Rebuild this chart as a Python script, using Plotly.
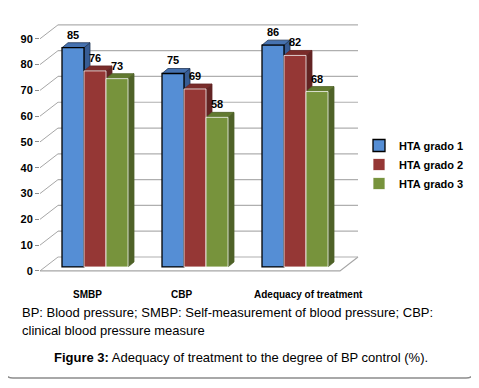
import plotly.graph_objects as go

# ---------------- data ----------------
categories = ["SMBP", "CBP", "Adequacy of treatment"]
series_names = ["HTA grado 1", "HTA grado 2", "HTA grado 3"]
grado1 = [85, 75, 86]
grado2 = [76, 69, 82]
grado3 = [73, 58, 68]
y_ticks = [0, 10, 20, 30, 40, 50, 60, 70, 80, 90]
caption_note_1 = "BP: Blood pressure; SMBP: Self-measurement of blood pressure; CBP:"
caption_note_2 = "clinical blood pressure measure"
figure_caption = "<b>Figure 3:</b> Adequacy of treatment to the degree of BP control (%)."

# ---------------- style ----------------
PAGE_W, PAGE_H = 479, 388
OX, OY = 8, 8                    # default body margin of the html page
W, H = PAGE_W - OX, PAGE_H - OY  # figure size
FONT = "Liberation Sans, Arial, sans-serif"
front_cols = ["#558ED5", "#953735", "#77933C"]
side_cols = ["#375C94", "#632423", "#4F6228"]
top_cols = ["#4672B0", "#7A2C2A", "#627A30"]
edge_cols = ["#000000", "rgba(255,255,255,0.75)", "rgba(255,255,255,0.75)"]

KY = 234 / 90.0      # px per y unit
KX = 100.0           # px per category unit
Y0 = 273             # page px of value 0 on front plane
X0 = 40              # page px of x=-0.5 on front plane
BAR_SHIFT = (5, -4)  # bar plane offset from front plane (px)
BACK_SHIFT = (18, -14)
DEPTH = (6, -5)      # depth of each bar (px)
BAR_W = 0.22


def dom_x(a, b):
    return [(a - OX) / W, (b - OX) / W]


def dom_y(top, bottom):
    return [(H - (bottom - OY)) / H, (H - (top - OY)) / H]


def px(p):
    return (p - OX) / W


def py(p):
    return (H - (p - OY)) / H


fig = go.Figure()
n = len(categories)

# ---------- front plane: side diagonals, floor edges ----------
fx_right = 370
fy_top = 20
front_xrange = [-0.5, -0.5 + (fx_right - X0) / KX]
front_yrange = [-1.0, (Y0 - fy_top) / KY]
dxb = BACK_SHIFT[0] / KX
dyb = -BACK_SHIFT[1] / KY

diag_x, diag_y = [], []
for v in y_ticks:
    diag_x += [-0.5, -0.5 + dxb, None]
    diag_y += [v, v + dyb, None]
fig.add_trace(go.Scatter(x=diag_x, y=diag_y, mode="lines",
                         line=dict(color="#A6A6A6", width=1),
                         hoverinfo="skip", showlegend=False, xaxis="x", yaxis="y"))
fig.add_trace(go.Scatter(x=[-0.5, n - 0.5, n - 0.5 + dxb], y=[0, 0, dyb], mode="lines",
                         line=dict(color="#A6A6A6", width=1.2),
                         hoverinfo="skip", showlegend=False, xaxis="x", yaxis="y"))

# ---------- bar plane (faces + back-wall grid) ----------
bxpx0 = X0 + BAR_SHIFT[0]
bypx0 = Y0 + BAR_SHIFT[1]
bar_xrange = [-0.5, 2.65]
bar_yrange = [-1.0, 95.0]
bar_dom_x = dom_x(bxpx0, bxpx0 + (bar_xrange[1] - bar_xrange[0]) * KX)
bar_dom_y = dom_y(bypx0 - bar_yrange[1] * KY, bypx0 - bar_yrange[0] * KY)

gdx = (BACK_SHIFT[0] - BAR_SHIFT[0]) / KX
gdy = -(BACK_SHIFT[1] - BAR_SHIFT[1]) / KY
for v in y_ticks:
    fig.add_trace(go.Scatter(x=[-0.5 + gdx, n - 0.5 + gdx], y=[v + gdy, v + gdy],
                             mode="lines", line=dict(color="#AFAFAF", width=1.2),
                             hoverinfo="skip", showlegend=False, xaxis="x3", yaxis="y3"))

ddx = DEPTH[0] / KX
ddy = -DEPTH[1] / KY
series = [grado1, grado2, grado3]
for j, vals in enumerate(series):
    sx, sy, tx, ty = [], [], [], []
    for i, v in enumerate(vals):
        c = i + (j - 1) * BAR_W
        l, r = c - BAR_W / 2, c + BAR_W / 2
        sx += [r, r + ddx, r + ddx, r, r, None]
        sy += [0, ddy, v + ddy, v, 0, None]
        tx += [l, r, r + ddx, l + ddx, l, None]
        ty += [v, v, v + ddy, v + ddy, v, None]
    lc = "#1F3556" if j == 0 else side_cols[j]
    fig.add_trace(go.Scatter(x=sx, y=sy, mode="lines", fill="toself",
                             fillcolor=side_cols[j], line=dict(color=lc, width=0.8),
                             hoverinfo="skip", showlegend=False, xaxis="x3", yaxis="y3"))
    fig.add_trace(go.Scatter(x=tx, y=ty, mode="lines", fill="toself",
                             fillcolor=top_cols[j], line=dict(color=lc, width=0.8),
                             hoverinfo="skip", showlegend=False, xaxis="x3", yaxis="y3"))

# ---------- bars (front faces) ----------
for j, vals in enumerate(series):
    fig.add_trace(go.Bar(x=categories, y=vals, name=series_names[j],
                         marker=dict(color=front_cols[j],
                                     line=dict(color=edge_cols[j], width=1.3 if j == 0 else 1)),
                         xaxis="x4", yaxis="y4"))

# ---------- value labels ----------
annotations = []
for j, vals in enumerate(series):
    for i, v in enumerate(vals):
        annotations.append(dict(x=i + (j - 1) * BAR_W, y=v, xref="x3", yref="y3",
                                text=f"<b>{v}</b>", showarrow=False, yanchor="bottom",
                                yshift=5, font=dict(family=FONT, size=11, color="#000000")))

# ---------- category labels ----------
cat_shift = [-8, -14, 13]
for i, cname in enumerate(categories):
    annotations.append(dict(x=i, y=0, xref="x3", yref="y3", text=f"<b>{cname}</b>",
                            showarrow=False, yanchor="middle", yshift=-28, xshift=cat_shift[i],
                            font=dict(family=FONT, size=10, color="#000000")))

# ---------- captions ----------
annotations.append(dict(x=px(20), y=py(315), xref="paper", yref="paper",
                        text=caption_note_1, showarrow=False, xanchor="left", yanchor="middle",
                        font=dict(family=FONT, size=13, color="#000000")))
annotations.append(dict(x=px(20), y=py(333), xref="paper", yref="paper",
                        text=caption_note_2, showarrow=False, xanchor="left", yanchor="middle",
                        font=dict(family=FONT, size=13, color="#000000")))
annotations.append(dict(x=px(241), y=py(360), xref="paper", yref="paper",
                        text=figure_caption, showarrow=False, xanchor="center", yanchor="middle",
                        font=dict(family=FONT, size=13, color="#000000")))

# ---------- outer rounded border ----------
x0p, x1p, y0p, y1p, rr = 5, 474, 3, 381, 8


def P(a, b):
    return f"{px(a):.5f},{py(b):.5f}"


path = (f"M {P(x0p + rr, y0p)} L {P(x1p - rr, y0p)} Q {P(x1p, y0p)} {P(x1p, y0p + rr)} "
        f"L {P(x1p, y1p - rr)} Q {P(x1p, y1p)} {P(x1p - rr, y1p)} "
        f"L {P(x0p + rr, y1p)} Q {P(x0p, y1p)} {P(x0p, y1p - rr)} "
        f"L {P(x0p, y0p + rr)} Q {P(x0p, y0p)} {P(x0p + rr, y0p)} Z")
shapes = [dict(type="path", path=path, xref="paper", yref="paper",
               fillcolor="rgba(0,0,0,0)",
               line=dict(color="#8C8C8C", width=1.5), layer="below")]

hidden = dict(showgrid=False, zeroline=False, showline=False, showticklabels=False, ticks="")

fig.update_layout(
    width=W, height=H,
    margin=dict(l=0, r=0, t=0, b=0),
    paper_bgcolor="#FFFFFF", plot_bgcolor="rgba(0,0,0,0)",
    barmode="group", bargap=1 - 3 * BAR_W, bargroupgap=0,
    font=dict(family=FONT, size=11, color="#000000"),
    xaxis=dict(domain=dom_x(X0, fx_right), range=front_xrange, anchor="y", **hidden),
    yaxis=dict(domain=dom_y(fy_top, Y0 + 1.0 * KY), range=front_yrange, anchor="x",
               showgrid=False, zeroline=False, showline=False,
               tickmode="array", tickvals=y_ticks, ticktext=[f"<b>{t}</b>" for t in y_ticks],
               ticks="outside", ticklen=4, tickcolor="#8C8C8C", tickwidth=1,
               tickfont=dict(family=FONT, size=11, color="#000000")),
    xaxis3=dict(domain=bar_dom_x, range=bar_xrange, anchor="y3", **hidden),
    yaxis3=dict(domain=bar_dom_y, range=bar_yrange, anchor="x3", **hidden),
    xaxis4=dict(domain=bar_dom_x, range=bar_xrange, anchor="y4", type="category", **hidden),
    yaxis4=dict(domain=bar_dom_y, range=bar_yrange, anchor="x4", **hidden),
    legend=dict(x=px(359), y=py(132), xanchor="left", yanchor="top",
                bgcolor="rgba(0,0,0,0)",
                font=dict(family=FONT, size=11, color="#000000", weight="bold"),
                tracegroupgap=0, itemwidth=30),
    annotations=annotations,
    shapes=shapes,
    showlegend=True,
)

fig.write_html("out.html")
